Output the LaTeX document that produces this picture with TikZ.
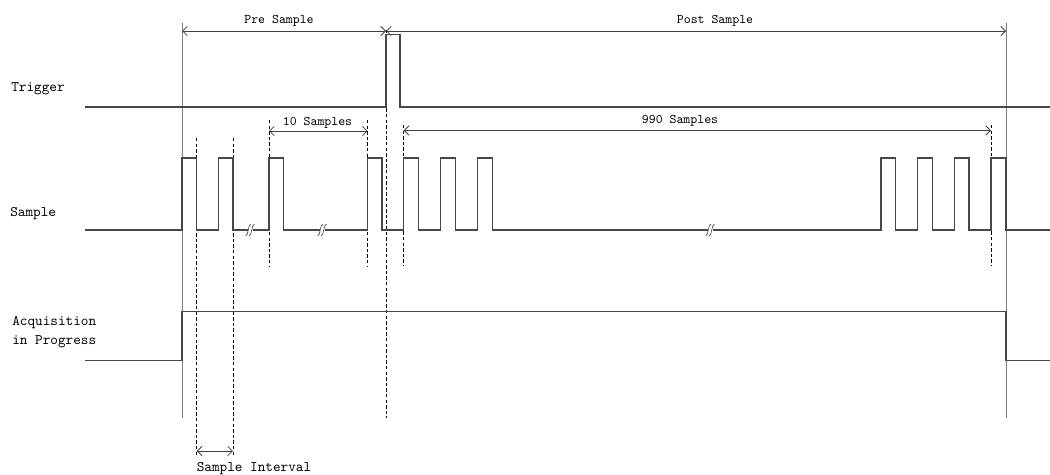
\documentclass[tikz,border=0pt]{standalone}
\usetikzlibrary{arrows.meta}
\begin{document}
\begin{tikzpicture}[x=0.75pt,y=-0.75pt,
  sig/.style={draw=black!72,line width=0.95pt,line join=miter},
  guide/.style={draw=black!50,line width=0.6pt},
  dashguide/.style={draw=black,line width=0.55pt,dash pattern=on 2.6pt off 1.6pt},
  dim/.style={draw=black!75,line width=0.6pt,{Straight Barb[length=3.5pt,width=7pt]}-{Straight Barb[length=3.5pt,width=7pt]}},
  lbl/.style={font=\ttfamily\fontsize{10.9}{13}\selectfont,text=black,anchor=base west,inner sep=0pt},
  toplbl/.style={font=\ttfamily\fontsize{9.9}{12}\selectfont,text=black,anchor=base,inner sep=0pt},
  brk/.style={draw=black!70,line width=0.5pt}]
\useasboundingbox (0,0) rectangle (1050,475);
% guide lines
\draw[guide] (182,23) -- (182,418);
\draw[guide] (1006,23) -- (1006,418);
\draw[dashguide] (386,30) -- (386,418);
\draw[dashguide] (196.7,138) -- (196.7,457);
\draw[dashguide] (232.9,138) -- (232.9,457);
\draw[dashguide] (269,120) -- (269,266);
\draw[dashguide] (367.7,120) -- (367.7,266);
\draw[dashguide] (403.7,125) -- (403.7,266);
\draw[dashguide] (991,125) -- (991,266);
% labels
\node[lbl] (ltrig) at (11,91.7) {Trigger};
\node[lbl] (lsamp) at (10,216) {Sample};
\node[lbl] (lacq1) at (12,325.5) {Acquisition};
\node[lbl] (lacq2) at (12,344) {in Progress};
% dimension arrows
\coordinate (preA) at (182,31);
\coordinate (preB) at (386,31);
\coordinate (postB) at (1006,31);
\draw[dim] (preA) -- (preB);
\draw[dim] (preB) -- (postB);
\node[toplbl] (tpre) at (279,23.3) {Pre Sample};
\node[toplbl] (tpost) at (715,23.3) {Post Sample};
\coordinate (tenA) at (269,131);
\coordinate (tenB) at (367.7,131);
\draw[dim] (tenA) -- (tenB);
\node[toplbl] (tten) at (317.5,125) {10 Samples};
\coordinate (nnA) at (403.7,130.5);
\coordinate (nnB) at (991,130.5);
\draw[dim] (nnA) -- (nnB);
\node[toplbl] (tnn) at (680,123.3) {990 Samples};
\coordinate (siA) at (196.7,451);
\coordinate (siB) at (232.9,451);
\draw[dim] (siA) -- (siB);
\node[lbl] (tsi) at (196.5,471.3) {Sample Interval};
% trigger
\draw[sig] (85,107) -- (386,107) -- (386,34.5) -- (400,34.5) -- (400,107) -- (1050,107);
% sample
\draw[sig] (85,230) -- (182,230) -- (182,158) -- (196.7,158) -- (196.7,230)
  -- (218.7,230) -- (218.7,158) -- (232.9,158) -- (232.9,230)
  -- (269,230) -- (269,158) -- (283.3,158) -- (283.3,230)
  -- (367.7,230) -- (367.7,158) -- (382,158) -- (382,230)
  -- (403.7,230) -- (403.7,158) -- (418.7,158) -- (418.7,230)
  -- (440.7,230) -- (440.7,158) -- (455.3,158) -- (455.3,230)
  -- (477.7,230) -- (477.7,158) -- (492.3,158) -- (492.3,230)
  -- (881,230) -- (881,158) -- (895.3,158) -- (895.3,230)
  -- (917.7,230) -- (917.7,158) -- (932.3,158) -- (932.3,230)
  -- (954.3,230) -- (954.3,158) -- (969,158) -- (969,230)
  -- (991,230) -- (991,158) -- (1006,158) -- (1006,230) -- (1050,230);
% break marks
\foreach \bx in {251,323,711}{
  \fill[white] (\bx-4,224) rectangle (\bx+4,236);
  \draw[brk] (\bx-5.5,236) .. controls (\bx-2.5,236) and (\bx-3,224) .. (\bx+0,224);
  \draw[brk] (\bx-2,236) .. controls (\bx+1,236) and (\bx+0.5,224) .. (\bx+3.5,224);
  \draw[sig] (\bx-6,230) -- (\bx-3.2,230);
  \draw[sig] (\bx+2.2,230) -- (\bx+6,230);
}
% acquisition
\draw[sig] (85,360.5) -- (182,360.5) -- (182,311.5) -- (1006,311.5) -- (1006,360.5) -- (1050,360.5);
\end{tikzpicture}
\end{document}
